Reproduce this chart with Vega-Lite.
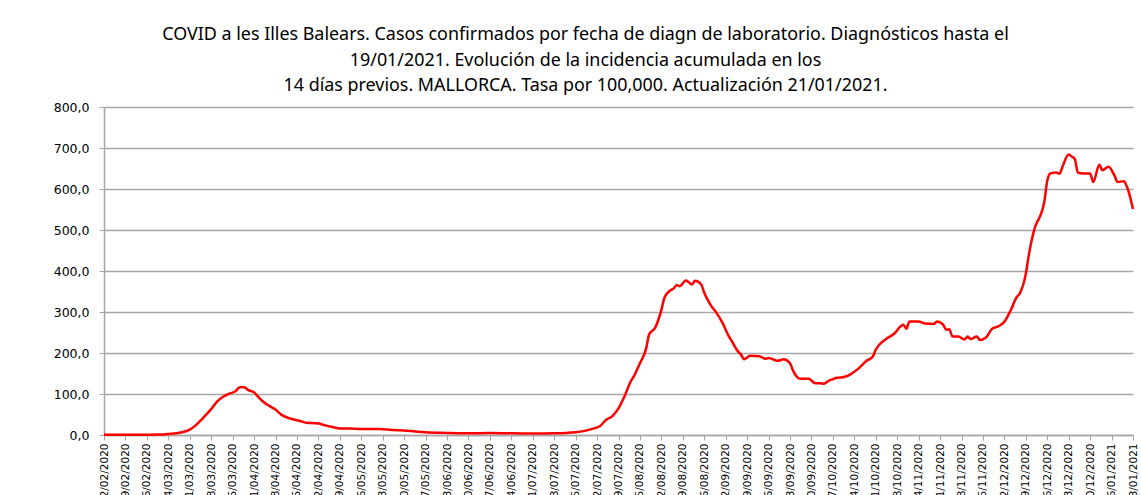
{
  "$schema": "https://vega.github.io/schema/vega-lite/v6.json",
  "autosize": {"type": "none"},
  "padding": {"left": 104, "top": 107, "right": 8, "bottom": 60},
  "width": 1029,
  "height": 328,
  "background": "white",
  "title": {
    "text": ["COVID a les Illes Balears. Casos confirmados por fecha de diagn de laboratorio. Diagnósticos hasta el", "19/01/2021.  Evolución de la incidencia acumulada en los", "14 días previos. MALLORCA. Tasa por 100,000. Actualización  21/01/2021."],
    "anchor": "middle",
    "dx": -33,
    "offset": 6,
    "font": "Noto Sans",
    "fontSize": 17.9,
    "fontWeight": "normal",
    "lineHeight": 25.5,
    "color": "#000000"
  },
  "data": {
    "values": [
      {"date": "2020-02-12", "value": 0.5},
      {"date": "2020-02-19", "value": 0.5},
      {"date": "2020-02-26", "value": 0.7},
      {"date": "2020-03-01", "value": 1},
      {"date": "2020-03-04", "value": 2.5},
      {"date": "2020-03-08", "value": 6},
      {"date": "2020-03-11", "value": 13},
      {"date": "2020-03-13", "value": 24},
      {"date": "2020-03-15", "value": 39},
      {"date": "2020-03-18", "value": 63},
      {"date": "2020-03-20", "value": 82},
      {"date": "2020-03-22", "value": 94},
      {"date": "2020-03-24", "value": 101},
      {"date": "2020-03-26", "value": 107},
      {"date": "2020-03-27", "value": 115},
      {"date": "2020-03-28", "value": 117},
      {"date": "2020-03-29", "value": 116},
      {"date": "2020-03-30", "value": 110},
      {"date": "2020-04-01", "value": 104},
      {"date": "2020-04-02", "value": 96},
      {"date": "2020-04-04", "value": 81},
      {"date": "2020-04-06", "value": 71},
      {"date": "2020-04-08", "value": 62},
      {"date": "2020-04-10", "value": 49},
      {"date": "2020-04-12", "value": 42},
      {"date": "2020-04-14", "value": 38},
      {"date": "2020-04-16", "value": 34},
      {"date": "2020-04-18", "value": 30},
      {"date": "2020-04-22", "value": 28},
      {"date": "2020-04-24", "value": 24},
      {"date": "2020-04-27", "value": 19},
      {"date": "2020-04-29", "value": 16},
      {"date": "2020-05-02", "value": 16},
      {"date": "2020-05-06", "value": 14.5},
      {"date": "2020-05-12", "value": 14.5},
      {"date": "2020-05-16", "value": 12},
      {"date": "2020-05-20", "value": 11},
      {"date": "2020-05-27", "value": 6.6},
      {"date": "2020-06-03", "value": 5},
      {"date": "2020-06-10", "value": 4},
      {"date": "2020-06-17", "value": 5},
      {"date": "2020-06-24", "value": 4},
      {"date": "2020-07-01", "value": 3.5},
      {"date": "2020-07-08", "value": 4},
      {"date": "2020-07-15", "value": 6.6},
      {"date": "2020-07-18", "value": 10},
      {"date": "2020-07-21", "value": 16},
      {"date": "2020-07-23", "value": 22},
      {"date": "2020-07-25", "value": 37},
      {"date": "2020-07-27", "value": 46},
      {"date": "2020-07-29", "value": 65},
      {"date": "2020-07-31", "value": 95},
      {"date": "2020-08-02", "value": 131},
      {"date": "2020-08-03", "value": 143},
      {"date": "2020-08-05", "value": 175},
      {"date": "2020-08-07", "value": 210},
      {"date": "2020-08-08", "value": 245},
      {"date": "2020-08-10", "value": 262},
      {"date": "2020-08-12", "value": 305},
      {"date": "2020-08-13", "value": 335},
      {"date": "2020-08-15", "value": 353},
      {"date": "2020-08-16", "value": 357},
      {"date": "2020-08-17", "value": 366},
      {"date": "2020-08-18", "value": 363},
      {"date": "2020-08-20", "value": 377},
      {"date": "2020-08-22", "value": 367},
      {"date": "2020-08-23", "value": 376},
      {"date": "2020-08-25", "value": 367},
      {"date": "2020-08-26", "value": 347},
      {"date": "2020-08-28", "value": 318},
      {"date": "2020-08-30", "value": 298},
      {"date": "2020-09-01", "value": 273},
      {"date": "2020-09-03", "value": 241},
      {"date": "2020-09-04", "value": 229},
      {"date": "2020-09-06", "value": 204},
      {"date": "2020-09-07", "value": 196},
      {"date": "2020-09-08", "value": 185},
      {"date": "2020-09-10", "value": 193},
      {"date": "2020-09-13", "value": 192},
      {"date": "2020-09-15", "value": 186},
      {"date": "2020-09-16", "value": 188},
      {"date": "2020-09-19", "value": 181},
      {"date": "2020-09-21", "value": 185},
      {"date": "2020-09-23", "value": 175},
      {"date": "2020-09-24", "value": 157},
      {"date": "2020-09-26", "value": 138},
      {"date": "2020-09-28", "value": 137},
      {"date": "2020-09-29", "value": 138},
      {"date": "2020-10-01", "value": 127},
      {"date": "2020-10-03", "value": 126},
      {"date": "2020-10-04", "value": 125},
      {"date": "2020-10-06", "value": 134},
      {"date": "2020-10-07", "value": 136},
      {"date": "2020-10-08", "value": 139},
      {"date": "2020-10-11", "value": 142},
      {"date": "2020-10-13", "value": 149},
      {"date": "2020-10-15", "value": 160},
      {"date": "2020-10-18", "value": 181},
      {"date": "2020-10-20", "value": 191},
      {"date": "2020-10-21", "value": 208},
      {"date": "2020-10-24", "value": 232},
      {"date": "2020-10-27", "value": 247},
      {"date": "2020-10-30", "value": 269},
      {"date": "2020-10-31", "value": 259},
      {"date": "2020-11-01", "value": 277},
      {"date": "2020-11-04", "value": 277},
      {"date": "2020-11-06", "value": 272},
      {"date": "2020-11-09", "value": 271},
      {"date": "2020-11-10", "value": 277},
      {"date": "2020-11-12", "value": 269},
      {"date": "2020-11-13", "value": 257},
      {"date": "2020-11-14", "value": 258},
      {"date": "2020-11-15", "value": 241},
      {"date": "2020-11-17", "value": 240},
      {"date": "2020-11-19", "value": 233},
      {"date": "2020-11-20", "value": 240},
      {"date": "2020-11-21", "value": 234},
      {"date": "2020-11-23", "value": 240},
      {"date": "2020-11-24", "value": 232},
      {"date": "2020-11-26", "value": 238},
      {"date": "2020-11-28", "value": 259},
      {"date": "2020-11-30", "value": 265},
      {"date": "2020-12-02", "value": 276},
      {"date": "2020-12-04", "value": 303},
      {"date": "2020-12-06", "value": 336},
      {"date": "2020-12-07", "value": 345},
      {"date": "2020-12-09", "value": 393},
      {"date": "2020-12-10", "value": 440},
      {"date": "2020-12-12", "value": 507},
      {"date": "2020-12-14", "value": 540},
      {"date": "2020-12-15", "value": 567},
      {"date": "2020-12-16", "value": 620},
      {"date": "2020-12-17", "value": 638},
      {"date": "2020-12-19", "value": 640},
      {"date": "2020-12-20", "value": 637},
      {"date": "2020-12-21", "value": 655},
      {"date": "2020-12-23", "value": 684},
      {"date": "2020-12-24", "value": 679},
      {"date": "2020-12-25", "value": 673},
      {"date": "2020-12-26", "value": 640},
      {"date": "2020-12-28", "value": 638},
      {"date": "2020-12-30", "value": 638},
      {"date": "2020-12-31", "value": 617},
      {"date": "2021-01-02", "value": 659},
      {"date": "2021-01-03", "value": 646},
      {"date": "2021-01-05", "value": 654},
      {"date": "2021-01-07", "value": 632},
      {"date": "2021-01-08", "value": 617},
      {"date": "2021-01-10", "value": 619},
      {"date": "2021-01-11", "value": 606},
      {"date": "2021-01-12", "value": 582},
      {"date": "2021-01-13", "value": 551}
    ]
  },
  "mark": {"type": "line", "color": "#ff0000", "strokeWidth": 2.5, "interpolate": "monotone", "clip": false},
  "encoding": {
    "x": {
      "field": "date",
      "type": "temporal",
      "scale": {"type": "utc", "domain": [{"year": 2020, "month": 2, "date": 12, "utc": true}, {"year": 2021, "month": 1, "date": 13, "utc": true}]},
      "axis": {
        "title": null,
        "labelExpr": "utcFormat(datum.value, '%d/%m/%Y')",
        "labelAngle": -90,
        "labelFont": "DejaVu Sans",
        "labelFontSize": 10.5,
        "labelColor": "#000000",
        "labelPadding": 3,
        "labelOverlap": false,
        "labelFlush": false,
        "labelBound": false,
        "grid": false,
        "domainColor": "#a6a6a6",
        "domainWidth": 1.5,
        "tickColor": "#a6a6a6",
        "tickSize": 5,
        "values": [
          {"year": 2020, "month": 2, "date": 12, "utc": true},
          {"year": 2020, "month": 2, "date": 19, "utc": true},
          {"year": 2020, "month": 2, "date": 26, "utc": true},
          {"year": 2020, "month": 3, "date": 4, "utc": true},
          {"year": 2020, "month": 3, "date": 11, "utc": true},
          {"year": 2020, "month": 3, "date": 18, "utc": true},
          {"year": 2020, "month": 3, "date": 25, "utc": true},
          {"year": 2020, "month": 4, "date": 1, "utc": true},
          {"year": 2020, "month": 4, "date": 8, "utc": true},
          {"year": 2020, "month": 4, "date": 15, "utc": true},
          {"year": 2020, "month": 4, "date": 22, "utc": true},
          {"year": 2020, "month": 4, "date": 29, "utc": true},
          {"year": 2020, "month": 5, "date": 6, "utc": true},
          {"year": 2020, "month": 5, "date": 13, "utc": true},
          {"year": 2020, "month": 5, "date": 20, "utc": true},
          {"year": 2020, "month": 5, "date": 27, "utc": true},
          {"year": 2020, "month": 6, "date": 3, "utc": true},
          {"year": 2020, "month": 6, "date": 10, "utc": true},
          {"year": 2020, "month": 6, "date": 17, "utc": true},
          {"year": 2020, "month": 6, "date": 24, "utc": true},
          {"year": 2020, "month": 7, "date": 1, "utc": true},
          {"year": 2020, "month": 7, "date": 8, "utc": true},
          {"year": 2020, "month": 7, "date": 15, "utc": true},
          {"year": 2020, "month": 7, "date": 22, "utc": true},
          {"year": 2020, "month": 7, "date": 29, "utc": true},
          {"year": 2020, "month": 8, "date": 5, "utc": true},
          {"year": 2020, "month": 8, "date": 12, "utc": true},
          {"year": 2020, "month": 8, "date": 19, "utc": true},
          {"year": 2020, "month": 8, "date": 26, "utc": true},
          {"year": 2020, "month": 9, "date": 2, "utc": true},
          {"year": 2020, "month": 9, "date": 9, "utc": true},
          {"year": 2020, "month": 9, "date": 16, "utc": true},
          {"year": 2020, "month": 9, "date": 23, "utc": true},
          {"year": 2020, "month": 9, "date": 30, "utc": true},
          {"year": 2020, "month": 10, "date": 7, "utc": true},
          {"year": 2020, "month": 10, "date": 14, "utc": true},
          {"year": 2020, "month": 10, "date": 21, "utc": true},
          {"year": 2020, "month": 10, "date": 28, "utc": true},
          {"year": 2020, "month": 11, "date": 4, "utc": true},
          {"year": 2020, "month": 11, "date": 11, "utc": true},
          {"year": 2020, "month": 11, "date": 18, "utc": true},
          {"year": 2020, "month": 11, "date": 25, "utc": true},
          {"year": 2020, "month": 12, "date": 2, "utc": true},
          {"year": 2020, "month": 12, "date": 9, "utc": true},
          {"year": 2020, "month": 12, "date": 16, "utc": true},
          {"year": 2020, "month": 12, "date": 23, "utc": true},
          {"year": 2020, "month": 12, "date": 30, "utc": true},
          {"year": 2021, "month": 1, "date": 6, "utc": true},
          {"year": 2021, "month": 1, "date": 13, "utc": true}
        ]
      }
    },
    "y": {
      "field": "value",
      "type": "quantitative",
      "scale": {"domain": [0, 800], "nice": false},
      "axis": {
        "title": null,
        "values": [0, 100, 200, 300, 400, 500, 600, 700, 800],
        "labelExpr": "replace(format(datum.value, '.1f'), '.', ',')",
        "labelFont": "DejaVu Sans",
        "labelFontSize": 12.5,
        "labelColor": "#000000",
        "labelPadding": 10,
        "gridColor": "#a6a6a6",
        "gridWidth": 1.5,
        "domainColor": "#a6a6a6",
        "domainWidth": 1.5,
        "tickColor": "#a6a6a6",
        "tickSize": 5
      }
    }
  },
  "config": {"view": {"stroke": null}}
}
